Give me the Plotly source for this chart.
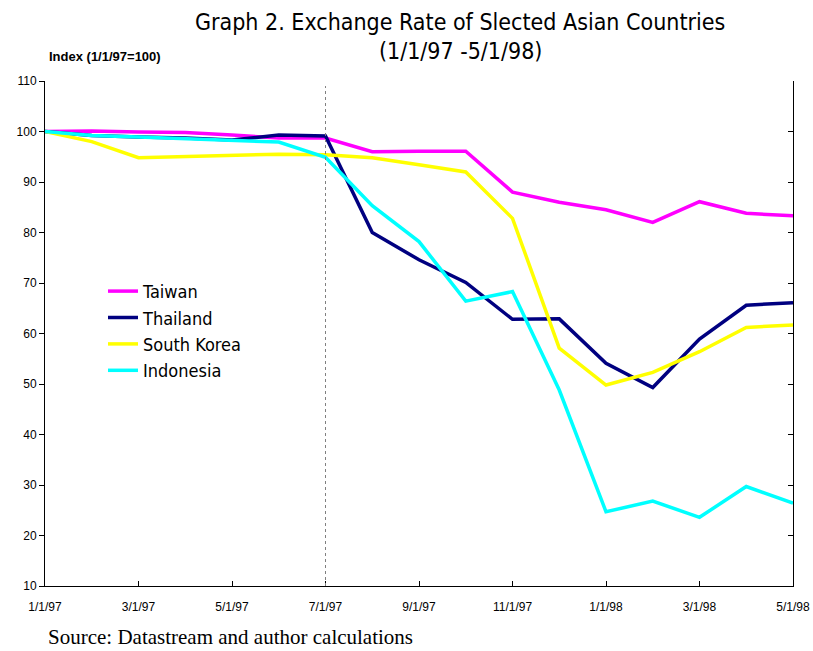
import plotly.graph_objects as go

months = ["1/1/97", "2/1/97", "3/1/97", "4/1/97", "5/1/97", "6/1/97", "7/1/97", "8/1/97",
          "9/1/97", "10/1/97", "11/1/97", "12/1/97", "1/1/98", "2/1/98", "3/1/98", "4/1/98", "5/1/98"]
tick_labels = months[::2]

taiwan = [100, 100.1, 99.9, 99.8, 99.3, 98.7, 98.7, 96.0, 96.1, 96.1, 88.0, 86.0, 84.5, 82.0, 86.1, 83.8, 83.3]
thailand = [100, 99.2, 98.9, 98.7, 98.3, 99.3, 99.1, 80.0, 74.6, 70.1, 62.8, 62.9, 54.1, 49.3, 58.9, 65.6, 66.1]
south_korea = [100, 98.0, 94.8, 95.0, 95.2, 95.5, 95.4, 94.8, 93.4, 92.0, 82.8, 57.1, 49.8, 52.3, 56.4, 61.2, 61.7]
indonesia = [100, 99.2, 98.9, 98.6, 98.2, 97.9, 94.9, 85.3, 78.2, 66.4, 68.3, 48.8, 24.7, 26.8, 23.6, 29.7, 26.4]

title_line1 = "Graph 2. Exchange Rate of Slected Asian Countries"
title_line2 = "(1/1/97 -5/1/98)"

series = [
    ("Taiwan", taiwan, "#FF00FF"),
    ("Thailand", thailand, "#000080"),
    ("South Korea", south_korea, "#FFFF00"),
    ("Indonesia", indonesia, "#00FFFF"),
]

fig = go.Figure()
for name, vals, color in series:
    fig.add_trace(go.Scatter(x=months, y=vals, mode="lines", name=name,
                             line=dict(color=color, width=3.5)))

# vertical dotted line at 7/1/97
fig.add_shape(type="line", xref="x", yref="paper", x0="7/1/97", x1="7/1/97", y0=0, y1=0.99,
              line=dict(color="#808080", width=1, dash="dot"))

# invisible trace for right axis
fig.add_trace(go.Scatter(x=months, y=taiwan, yaxis="y2", mode="lines", showlegend=False,
                         line=dict(width=0), hoverinfo="skip", opacity=0))

tick_font = dict(family="Liberation Sans, Arial, sans-serif", size=12, color="#000000")
narrow = "DejaVu Sans Condensed, Liberation Sans, sans-serif"

PX0, PY0, PW, PH = 45, 81, 748, 505  # plot area in window pixels


def px(xw):
    return (xw - PX0) / PW


def py(yw):
    return 1 - (yw - PY0) / PH


fig.update_layout(
    width=813, height=651,
    margin=dict(l=45, r=20, t=81, b=65),
    paper_bgcolor="white", plot_bgcolor="white",
    showlegend=True,
    legend=dict(x=px(103), y=0.620, xanchor="left", yanchor="top",
                bgcolor="rgba(0,0,0,0)",
                font=dict(family=narrow, size=18, color="#000000"),
                tracegroupgap=0),
    xaxis=dict(type="category", categoryorder="array", categoryarray=months,
               range=[0, 16], tickmode="array", tickvals=tick_labels, ticktext=tick_labels,
               ticks="inside", ticklen=5, tickcolor="#000000", ticklabelstandoff=10,
               showline=True, linecolor="#000000", linewidth=1, automargin=False,
               showgrid=False, zeroline=False, tickfont=tick_font),
    yaxis=dict(range=[10, 110], tickvals=list(range(10, 111, 10)),
               ticks="outside", ticklen=5, tickcolor="#000000", automargin=False,
               showline=True, linecolor="#000000", linewidth=1,
               showgrid=False, zeroline=False, tickfont=tick_font),
    yaxis2=dict(range=[10, 110], overlaying="y", side="right", automargin=False,
                tickvals=list(range(10, 111, 10)), showticklabels=False,
                ticks="inside", ticklen=5, tickcolor="#000000",
                showline=True, linecolor="#000000", linewidth=1,
                showgrid=False, zeroline=False),
    annotations=[
        dict(text=title_line1, xref="paper", yref="paper", x=px(460), y=py(22),
             xanchor="center", yanchor="middle", showarrow=False,
             font=dict(family=narrow, size=23, color="#000000")),
        dict(text=title_line2, xref="paper", yref="paper", x=px(460), y=py(51),
             xanchor="center", yanchor="middle", showarrow=False,
             font=dict(family=narrow, size=23, color="#000000")),
        dict(text="<b>Index (1/1/97=100)</b>",
             xref="paper", yref="paper", x=px(47), y=py(57),
             xanchor="left", yanchor="middle", showarrow=False,
             font=dict(family="Liberation Sans, Arial, sans-serif", size=13, color="#000000")),
        dict(text="Source: Datastream and author calculations",
             xref="paper", yref="paper", x=px(46), y=py(637),
             xanchor="left", yanchor="middle", showarrow=False,
             font=dict(family="Liberation Serif, Times New Roman, serif", size=21, color="#000000")),
    ],
)

fig.write_html(
    "out.html",
    config={"displayModeBar": False},
    post_script="document.body.style.margin='0';document.body.style.overflow='hidden';"
                "document.documentElement.style.overflow='hidden';",
)
